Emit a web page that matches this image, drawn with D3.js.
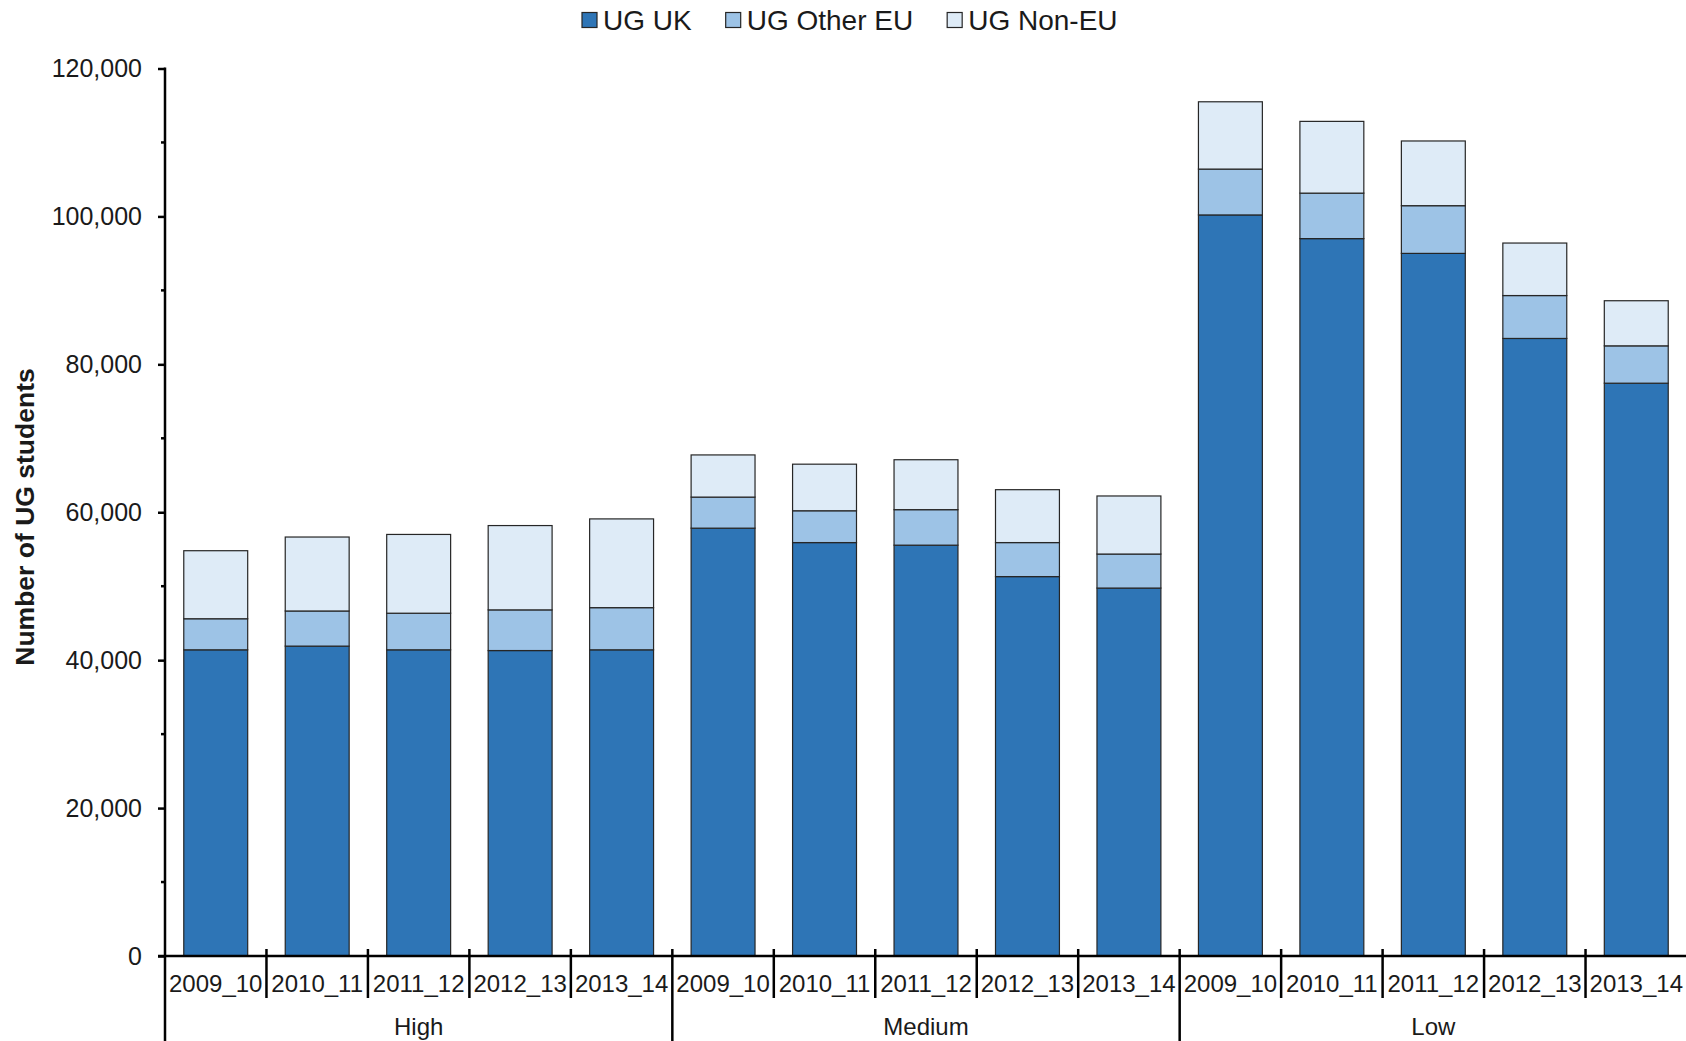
<!DOCTYPE html>
<html>
<head>
<meta charset="utf-8">
<script src="https://cdn.jsdelivr.net/npm/d3@7"></script>
<style>
  body { margin: 0; background: #fff; }
  svg { display: block; font-family: 'Liberation Sans', Arial, sans-serif; }
</style>
</head>
<body>
<svg width="1686" height="1041"></svg>
<script>
const groups = ['High', 'Medium', 'Low']
const years = ['2009_10', '2010_11', '2011_12', '2012_13', '2013_14']
const seriesNames = ['UG UK', 'UG Other EU', 'UG Non-EU']
const ugUK = [41400, 41900, 41400, 41300, 41400, 57850, 55900, 55550, 51300, 49750, 100200, 97000, 95000, 83500, 77450]
const ugOtherEU = [4200, 4750, 4950, 5500, 5700, 4200, 4300, 4800, 4600, 4600, 6200, 6150, 6450, 5800, 5050]
const ugNonEU = [9200, 10000, 10650, 11400, 12000, 5700, 6300, 6750, 7150, 7850, 9100, 9700, 8750, 7100, 6100]
const yTicks = [0, 20000, 40000, 60000, 80000, 100000, 120000]
const yMinorTicks = [10000, 30000, 50000, 70000, 90000, 110000]

const colors = ['#2e75b6', '#9dc3e6', '#deebf7']

// one row per bar, key = group|year
const rows = []
groups.forEach((g, gi) => {
  years.forEach((yr, yi) => {
    const i = gi * years.length + yi
    rows.push({ key: g + '|' + yr, group: g, year: yr, 'UG UK': ugUK[i], 'UG Other EU': ugOtherEU[i], 'UG Non-EU': ugNonEU[i] })
  })
})

const svg = d3.select('svg')
const plotLeft = 165
const plotRight = 1687
const plotTop = 68.5
const plotBottom = 956

const x = d3.scaleBand()
  .domain(rows.map(d => d.key))
  .range([plotLeft, plotRight])
  .paddingInner(0.37)
  .paddingOuter(0.185)

const y = d3.scaleLinear().domain([0, 120000]).range([plotBottom, plotTop])

const step = x.step()
const slotLeft = key => x(key) - step * x.paddingOuter()

// bars
const stacked = d3.stack().keys(seriesNames)(rows)
svg.append('g')
  .selectAll('g')
  .data(stacked)
  .join('g')
  .attr('fill', (d, i) => colors[i])
  .selectAll('rect')
  .data(d => d)
  .join('rect')
  .attr('x', d => x(d.data.key))
  .attr('y', d => y(d[1]))
  .attr('width', x.bandwidth())
  .attr('height', d => y(d[0]) - y(d[1]))
  .attr('stroke', '#262626')
  .attr('stroke-width', 1.2)

// y axis
const yAxis = svg.append('g')
  .attr('transform', `translate(${plotLeft},0)`)
  .call(d3.axisLeft(y).tickValues(yTicks).tickFormat(d3.format(',')).tickSize(7).tickPadding(16))
yAxis.select('.domain').remove()
yAxis.selectAll('.tick line').attr('stroke', '#000').attr('stroke-width', 2.5)
yAxis.selectAll('.tick text')
  .attr('font-size', 25)
  .attr('fill', '#1a1a1a')
  .style('font-family', "'Liberation Sans', Arial, sans-serif")

svg.append('g')
  .selectAll('line')
  .data(yMinorTicks)
  .join('line')
  .attr('x1', plotLeft - 4)
  .attr('x2', plotLeft)
  .attr('y1', d => y(d))
  .attr('y2', d => y(d))
  .attr('stroke', '#000')
  .attr('stroke-width', 2.5)

// y axis line, running down through the category labels
svg.append('line')
  .attr('x1', plotLeft).attr('x2', plotLeft)
  .attr('y1', y(120000) - 1).attr('y2', 1041)
  .attr('stroke', '#000').attr('stroke-width', 2.5)

// x axis line
svg.append('line')
  .attr('x1', plotLeft - 7).attr('x2', 1686)
  .attr('y1', plotBottom).attr('y2', plotBottom)
  .attr('stroke', '#000').attr('stroke-width', 2.5)

// category labels
const xAxis = svg.append('g')
  .attr('transform', `translate(0,${plotBottom})`)
  .call(d3.axisBottom(x).tickSize(0).tickPadding(0).tickFormat(k => k.split('|')[1]))
xAxis.select('.domain').remove()
xAxis.selectAll('.tick text')
  .attr('y', 36)
  .attr('dy', null)
  .attr('font-size', 24)
  .attr('fill', '#1a1a1a')
  .style('font-family', "'Liberation Sans', Arial, sans-serif")

// separators between categories and between groups
rows.forEach((d, i) => {
  if (i === 0) return
  const isGroupEdge = i % years.length === 0
  svg.append('line')
    .attr('x1', slotLeft(d.key)).attr('x2', slotLeft(d.key))
    .attr('y1', plotBottom - 7)
    .attr('y2', isGroupEdge ? 1041 : 998)
    .attr('stroke', '#000').attr('stroke-width', 2.5)
})

// group labels
svg.append('g')
  .selectAll('text')
  .data(groups)
  .join('text')
  .attr('x', g => {
    const first = slotLeft(g + '|' + years[0])
    return first + step * years.length / 2
  })
  .attr('y', 1035)
  .attr('text-anchor', 'middle')
  .attr('font-size', 24)
  .attr('fill', '#1a1a1a')
  .text(g => g)

// y axis title
svg.append('text')
  .attr('transform', 'translate(34,517) rotate(-90)')
  .attr('text-anchor', 'middle')
  .attr('font-size', 26.5)
  .attr('font-weight', 'bold')
  .attr('fill', '#1a1a1a')
  .text('Number of UG students')

// legend
const legend = svg.append('g')
let lx = 582
seriesNames.forEach((name, i) => {
  legend.append('rect')
    .attr('x', lx).attr('y', 12.5)
    .attr('width', 15).attr('height', 15)
    .attr('fill', colors[i])
    .attr('stroke', '#262626').attr('stroke-width', 1.2)
  const t = legend.append('text')
    .attr('x', lx + 21).attr('y', 30)
    .attr('font-size', 28)
    .attr('fill', '#1a1a1a')
    .text(name)
  lx += 21 + t.node().getComputedTextLength() + 34
})
</script>
</body>
</html>
